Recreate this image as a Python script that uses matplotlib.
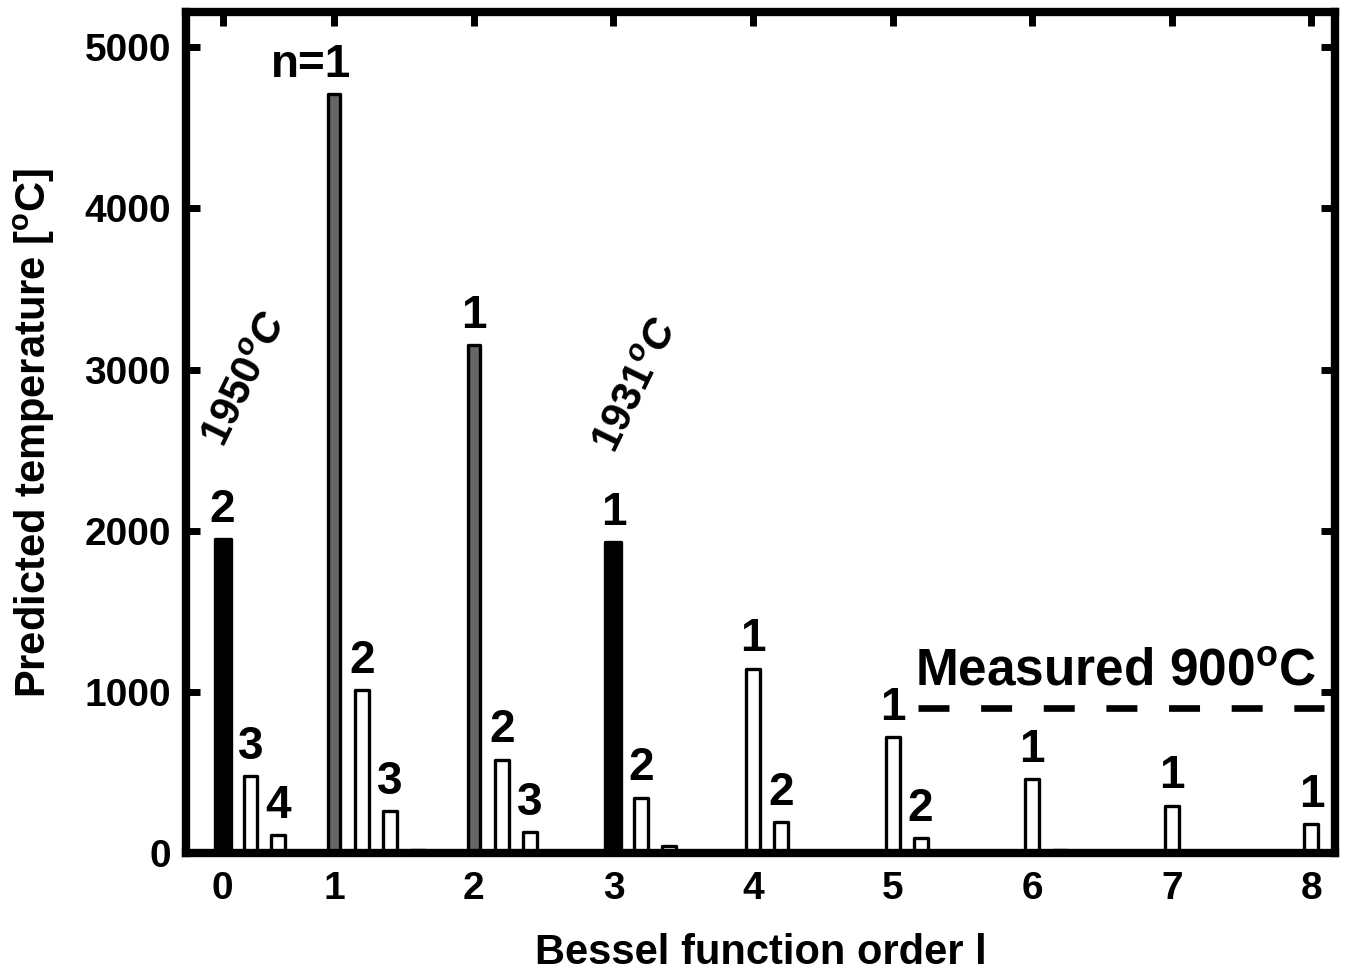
import numpy as np
import matplotlib
matplotlib.use("Agg")
import matplotlib.pyplot as plt
from matplotlib import font_manager as fm

# ---------------- data ----------------
l_orders = [0, 1, 2, 3, 4, 5, 6, 7, 8]
# predicted temperature for radial index n = 1..4 at each Bessel order l
temp_n1 = [0, 4710, 3150, 1931, 1145, 720, 460, 295, 180]
temp_n2 = [1950, 1010, 580, 345, 195, 95, 20, 0, 0]
temp_n3 = [480, 260, 130, 45, 0, 0, 0, 0, 0]
temp_n4 = [110, 20, 0, 0, 0, 0, 0, 0, 0]
series = [temp_n1, temp_n2, temp_n3, temp_n4]
measured = 900
tick_labels = [str(l) for l in l_orders]

# bar labels: (l, n, text)
bar_labels = [(0, 2, "2"), (0, 3, "3"), (0, 4, "4"),
              (1, 1, "n=1"), (1, 2, "2"), (1, 3, "3"),
              (2, 1, "1"), (2, 2, "2"), (2, 3, "3"),
              (3, 1, "1"), (3, 2, "2"),
              (4, 1, "1"), (4, 2, "2"),
              (5, 1, "1"), (5, 2, "2"),
              (6, 1, "1"), (7, 1, "1"), (8, 1, "1")]
black_bars = [(0, 2), (3, 1)]
grey_bars = [(1, 1), (2, 1)]

# ---------------- style ----------------
plt.rcParams['font.family'] = ['Liberation Sans', 'DejaVu Sans']
plt.rcParams['font.weight'] = 'bold'
plt.rcParams['mathtext.fontset'] = 'custom'
plt.rcParams['mathtext.rm'] = 'Liberation Sans:bold'
plt.rcParams['mathtext.it'] = 'Liberation Sans:bold:italic'
plt.rcParams['mathtext.bf'] = 'Liberation Sans:bold'
plt.rcParams['lines.scale_dashes'] = False

names = {f.name for f in fm.fontManager.ttflist}
if 'Liberation Sans Narrow' in names:
    narrow_family = ['Liberation Sans Narrow', 'Liberation Sans', 'DejaVu Sans']
    tick_fs, label_fs = 34, 36
else:
    narrow_family = ['Liberation Sans', 'DejaVu Sans']
    tick_fs, label_fs = 28, 30

fig = plt.figure(figsize=(13.5, 9.74), dpi=100)
ax = fig.add_axes([0.138, 0.124, 0.851, 0.864])

spacing = 0.2
for ni, vals in enumerate(series):
    n = ni + 1
    for l, v in zip(l_orders, vals):
        if v <= 0:
            continue
        x = l + spacing * (n - 1)
        if (l, n) in black_bars:
            fc, w = 'black', 0.115
        elif (l, n) in grey_bars:
            fc, w = '#666666', 0.085
        else:
            fc, w = 'white', 0.1
        ax.bar(x, v, width=w, color=fc, edgecolor='black', linewidth=2.4,
               joinstyle='round', zorder=2)

for l, n, txt in bar_labels:
    v = series[n - 1][l]
    x = l + spacing * (n - 1)
    if txt == "n=1":
        x = x - 0.17
    ax.text(x, v + 45, txt, ha='center', va='bottom', fontsize=33,
            fontweight='bold', zorder=3)

# measured line
ax.plot([5.18, 8.09], [measured, measured], color='black', lw=4.8,
        dashes=(22.3, 22.8), solid_capstyle='butt', dash_capstyle='butt',
        zorder=3)
ax.text(5.16, 975, r'Measured 900$^{\mathrm{o}}$C', ha='left', va='bottom',
        fontsize=37, fontweight='bold', zorder=3)

# rotated annotations
ax.text(0.37, 2940, r'$\mathit{1950^{o}C}$', rotation=64, ha='center',
        va='center', fontsize=30, zorder=3)
ax.text(3.17, 2900, r'$\mathit{1931^{o}C}$', rotation=64, ha='center',
        va='center', fontsize=30, zorder=3)

ax.set_xlim(-0.06, 8.17)
ax.set_ylim(0, 5220)
tick_pos = [0.2] + l_orders[1:]
ax.set_xticks(tick_pos)
ax.set_xticklabels(tick_labels)
ax.set_yticks([0, 1000, 2000, 3000, 4000, 5000])
for lab in ax.get_xticklabels() + ax.get_yticklabels():
    lab.set_fontsize(tick_fs)
    lab.set_fontweight('bold')
    lab.set_family(narrow_family)

ax.tick_params(direction='in', length=10, width=5, top=True, right=True)
ax.tick_params(axis='y', pad=11)
ax.tick_params(axis='x', pad=13)
for sp in ax.spines.values():
    sp.set_linewidth(6)
    sp.set_zorder(5)

ax.set_xlabel('Bessel function order l', fontsize=label_fs, fontweight='bold',
              family=narrow_family)
ax.set_ylabel(r'Predicted temperature [$^{\mathrm{o}}$C]', fontsize=label_fs,
              fontweight='bold', family=narrow_family)
ax.xaxis.set_label_coords(0.5, -0.118)
ax.yaxis.set_label_coords(-0.132, 0.5)
ax.xaxis.label.set_va('center')
ax.yaxis.label.set_va('center')

fig.savefig('out.png', dpi=100)
